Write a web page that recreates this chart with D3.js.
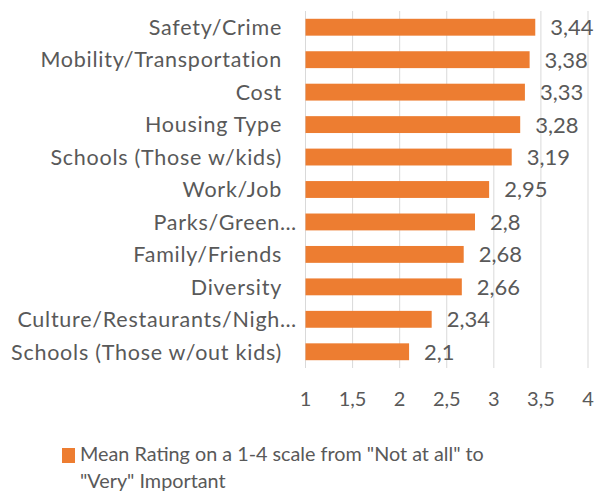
<!DOCTYPE html>
<html>
<head>
<meta charset="utf-8">
<script src="https://cdn.jsdelivr.net/npm/d3@7"></script>
<style>
  body { margin: 0; background: #fff; }
  svg { display: block; font-family: Lato, "Open Sans", sans-serif; }
</style>
</head>
<body>
<div id="chart"></div>
<script>
const categories = [
  "Safety/Crime",
  "Mobility/Transportation",
  "Cost",
  "Housing Type",
  "Schools (Those w/kids)",
  "Work/Job",
  "Parks/Green…",
  "Family/Friends",
  "Diversity",
  "Culture/Restaurants/Nigh…",
  "Schools (Those w/out kids)"
];
const values = [3.44, 3.38, 3.33, 3.28, 3.19, 2.95, 2.8, 2.68, 2.66, 2.34, 2.1];
const ticks = [1, 1.5, 2, 2.5, 3, 3.5, 4];
const seriesName = ["Mean Rating on a 1-4 scale from \"Not at all\" to", "\"Very\" Important"];

const width = 602;
const height = 494;
const margin = {top: 11, left: 305.5, right: 14, bottom: 126};
const textColor = "#595959";
const barColor = "#ED7D31";
const fmt = v => String(v).replace(".", ",");

const svg = d3.select("#chart").append("svg")
  .attr("width", width)
  .attr("height", height);

const x = d3.scaleLinear()
  .domain([1, 4])
  .range([margin.left, width - margin.right]);

const y = d3.scaleBand()
  .domain(categories)
  .range([margin.top, height - margin.bottom])
  .paddingInner(0.48)
  .paddingOuter(0.24);

// gridlines
svg.append("g")
  .selectAll("line")
  .data(ticks)
  .join("line")
    .attr("x1", d => x(d)).attr("x2", d => x(d))
    .attr("y1", margin.top).attr("y2", height - margin.bottom)
    .attr("stroke", "#d9d9d9")
    .attr("stroke-width", 1);

// tick labels
svg.append("g")
  .selectAll("text")
  .data(ticks)
  .join("text")
    .attr("x", d => x(d))
    .attr("y", 405.5)
    .attr("text-anchor", "middle")
    .attr("fill", textColor)
    .style("font-size", "20px")
    .text(fmt);

// bars
const data = categories.map((c, i) => ({name: c, value: values[i]}));
svg.append("g")
  .selectAll("rect")
  .data(data)
  .join("rect")
    .attr("x", x(1))
    .attr("y", d => y(d.name))
    .attr("width", d => x(d.value) - x(1))
    .attr("height", y.bandwidth())
    .attr("fill", barColor);

// value labels
svg.append("g")
  .selectAll("text")
  .data(data)
  .join("text")
    .attr("x", d => x(d.value) + 15)
    .attr("y", d => y(d.name) + y.bandwidth() / 2)
    .attr("dy", "0.36em")
    .attr("fill", textColor)
    .style("font-size", "22px")
    .text(d => fmt(d.value));

// category labels
svg.append("g")
  .selectAll("text")
  .data(categories)
  .join("text")
    .attr("x", d => d.endsWith("…") ? 297 : 282)
    .attr("y", d => y(d) + y.bandwidth() / 2)
    .attr("dy", "0.36em")
    .attr("text-anchor", "end")
    .attr("fill", textColor)
    .style("font-size", "21.5px")
    .style("letter-spacing", "0.75px")
    .text(d => d);

// legend
const legend = svg.append("g");
legend.append("rect")
  .attr("x", 62).attr("y", 448)
  .attr("width", 13).attr("height", 15)
  .attr("fill", barColor);
legend.append("text")
  .attr("fill", textColor)
  .style("font-size", "19.8px")
  .selectAll("tspan")
  .data(seriesName)
  .join("tspan")
    .attr("x", 80)
    .attr("y", (d, i) => 461 + i * 27)
    .text(d => d);
</script>
</body>
</html>
